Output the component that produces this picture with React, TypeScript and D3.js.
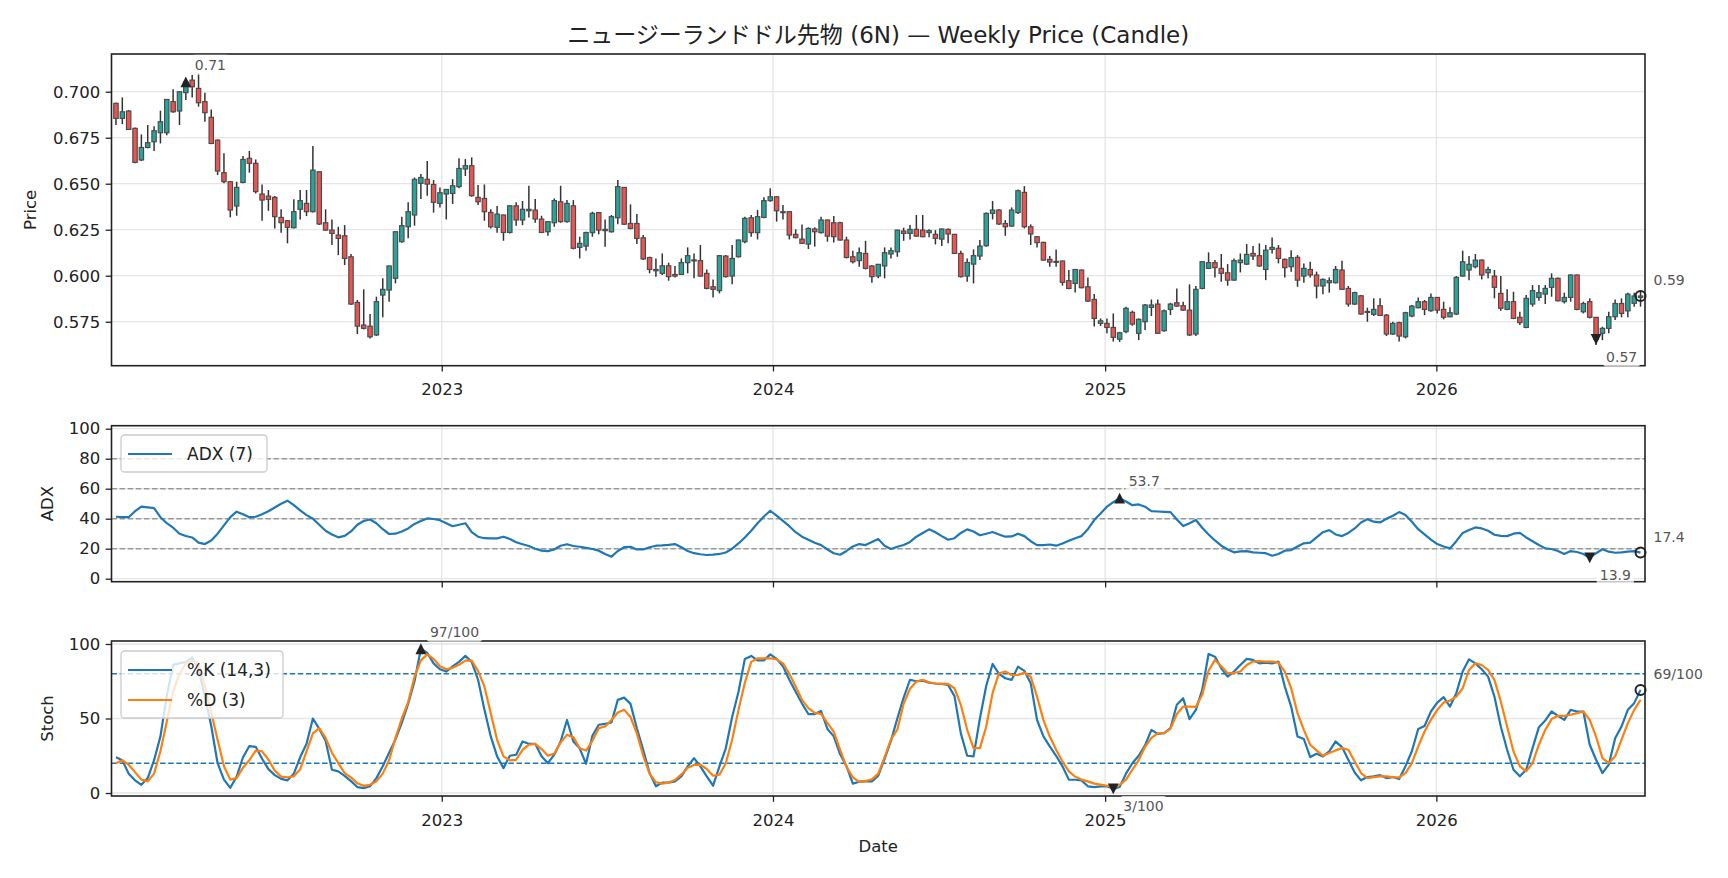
import React, { useEffect, useRef } from "react";
import * as d3 from "d3";

// ---------- data ----------
const FIRST_WEEK = "2022-01-07";
const TITLE = "ニュージーランドドル先物 (6N) — Weekly Price (Candle)";

const OPEN = [
  0.6937,0.6855,0.6895,0.6801,0.6629,0.6697,0.6728,0.6777,0.6777,0.6946,
  0.6895,0.6995,0.7063,0.7018,0.6946,0.6861,0.6737,0.6560,0.6511,0.6379,
  0.6507,0.6638,0.6611,0.6444,0.6433,0.6426,0.6317,0.6299,0.6261,0.6361,
  0.6393,0.6348,0.6565,0.6288,0.6248,0.6221,0.6217,0.6103,0.5855,0.5732,
  0.5726,0.5678,0.5895,0.5922,0.5986,0.6185,0.6266,0.6330,0.6502,0.6524,
  0.6496,0.6393,0.6444,0.6447,0.6484,0.6580,0.6598,0.6426,0.6420,0.6344,
  0.6263,0.6330,0.6235,0.6380,0.6303,0.6353,0.6357,0.6308,0.6239,0.6288,
  0.6402,0.6294,0.6380,0.6154,0.6161,0.6234,0.6343,0.6252,0.6239,0.6315,
  0.6480,0.6284,0.6284,0.6206,0.6099,0.6034,0.6013,0.6054,0.6007,0.6007,
  0.6071,0.6086,0.6082,0.6013,0.5940,0.5919,0.6107,0.5998,0.6103,0.6185,
  0.6315,0.6234,0.6317,0.6408,0.6429,0.6348,0.6348,0.6225,0.6199,0.6172,
  0.6254,0.6234,0.6303,0.6288,0.6288,0.6194,0.6103,0.6082,0.6121,0.6053,
  0.5998,0.6053,0.6118,0.6130,0.6243,0.6230,0.6252,0.6248,0.6234,0.6225,
  0.6199,0.6252,0.6225,0.6121,0.5998,0.6063,0.6107,0.6163,0.6339,0.6357,
  0.6284,0.6270,0.6343,0.6453,0.6266,0.6212,0.6181,0.6089,0.6074,0.6080,
  0.5973,0.5958,0.6031,0.5940,0.5871,0.5741,0.5741,0.5719,0.5655,0.5696,
  0.5801,0.5687,0.5750,0.5828,0.5846,0.5701,0.5817,0.5853,0.5837,0.5813,
  0.5683,0.5931,0.6040,0.6071,0.6040,0.6016,0.5976,0.6071,0.6063,0.6121,
  0.6109,0.6034,0.6143,0.6149,0.6089,0.6049,0.6100,0.5998,0.6034,0.6004,
  0.5944,0.5962,0.5962,0.6031,0.5931,0.5846,0.5891,0.5801,0.5790,0.5837,
  0.5786,0.5683,0.5745,0.5668,0.5781,0.5826,0.5859,0.5810,0.5882,0.5817,
  0.5777,0.5792,0.5998,0.6031,0.6049,0.6085,0.6016,0.5998,0.5904,0.5817,
  0.5859,0.5774,0.5719,0.5846,0.5882,0.5900,0.5937,0.5986,0.5859,0.5882,
  0.6004,0.5804,0.5859,0.5774,0.5687,0.5714,0.5777,0.5849,0.5809,0.5850,0.5882,
];
const HIGH = [
  0.6940,0.6969,0.6900,0.6806,0.6768,0.6819,0.6813,0.6897,0.6959,0.7013,
  0.7002,0.7060,0.7091,0.7100,0.6995,0.6904,0.6741,0.6665,0.6513,0.6511,
  0.6650,0.6678,0.6632,0.6496,0.6466,0.6433,0.6361,0.6302,0.6415,0.6466,
  0.6466,0.6705,0.6567,0.6361,0.6306,0.6266,0.6275,0.6118,0.5868,0.5926,
  0.5792,0.5886,0.5986,0.6055,0.6241,0.6321,0.6399,0.6534,0.6553,0.6623,
  0.6520,0.6480,0.6471,0.6525,0.6638,0.6634,0.6643,0.6493,0.6496,0.6361,
  0.6379,0.6332,0.6382,0.6399,0.6406,0.6489,0.6417,0.6326,0.6295,0.6420,
  0.6489,0.6411,0.6411,0.6212,0.6239,0.6348,0.6345,0.6306,0.6330,0.6520,
  0.6482,0.6388,0.6335,0.6221,0.6103,0.6094,0.6121,0.6071,0.6053,0.6094,
  0.6154,0.6121,0.6167,0.6034,0.5980,0.6110,0.6112,0.6167,0.6197,0.6321,
  0.6330,0.6357,0.6426,0.6475,0.6433,0.6384,0.6350,0.6252,0.6279,0.6263,
  0.6263,0.6321,0.6305,0.6324,0.6294,0.6212,0.6136,0.6154,0.6190,0.6058,
  0.6064,0.6154,0.6154,0.6250,0.6261,0.6275,0.6330,0.6330,0.6252,0.6248,
  0.6257,0.6257,0.6227,0.6136,0.6094,0.6143,0.6194,0.6343,0.6406,0.6361,
  0.6303,0.6371,0.6469,0.6487,0.6279,0.6216,0.6185,0.6107,0.6143,0.6082,
  0.6031,0.6036,0.6033,0.5991,0.5900,0.5768,0.5768,0.5795,0.5695,0.5832,
  0.5810,0.5768,0.5846,0.5871,0.5871,0.5817,0.5853,0.5931,0.5859,0.5953,
  0.5944,0.6078,0.6127,0.6085,0.6118,0.6063,0.6094,0.6121,0.6172,0.6161,
  0.6176,0.6167,0.6208,0.6167,0.6094,0.6139,0.6112,0.6067,0.6076,0.6022,
  0.5985,0.5991,0.6053,0.6082,0.5944,0.5913,0.5895,0.5826,0.5877,0.5877,
  0.5792,0.5750,0.5750,0.5804,0.5841,0.5882,0.5868,0.5904,0.5884,0.5859,
  0.5828,0.5998,0.6136,0.6107,0.6118,0.6089,0.6049,0.6031,0.5998,0.5926,
  0.5913,0.5804,0.5895,0.5949,0.5949,0.5949,0.6013,0.5991,0.5908,0.6007,
  0.6007,0.5859,0.5877,0.5776,0.5723,0.5804,0.5871,0.5877,0.5908,0.5908,0.5913,
];
const LOW = [
  0.6819,0.6824,0.6792,0.6611,0.6623,0.6692,0.6678,0.6719,0.6764,0.6886,
  0.6819,0.6955,0.6969,0.6919,0.6837,0.6714,0.6547,0.6502,0.6317,0.6326,
  0.6502,0.6560,0.6447,0.6299,0.6353,0.6257,0.6234,0.6176,0.6257,0.6306,
  0.6324,0.6343,0.6275,0.6243,0.6167,0.6112,0.6058,0.5841,0.5683,0.5708,
  0.5659,0.5672,0.5774,0.5859,0.5958,0.6179,0.6203,0.6272,0.6417,0.6435,
  0.6343,0.6371,0.6306,0.6390,0.6475,0.6542,0.6429,0.6384,0.6299,0.6257,
  0.6234,0.6190,0.6230,0.6272,0.6275,0.6317,0.6288,0.6232,0.6217,0.6266,
  0.6288,0.6288,0.6143,0.6094,0.6136,0.6212,0.6225,0.6158,0.6234,0.6280,
  0.6275,0.6252,0.6172,0.6085,0.6013,0.5995,0.6004,0.5973,0.5991,0.6004,
  0.6013,0.5986,0.5995,0.5926,0.5882,0.5904,0.5991,0.5953,0.6099,0.6176,
  0.6212,0.6197,0.6312,0.6402,0.6294,0.6306,0.6197,0.6203,0.6172,0.6145,
  0.6158,0.6230,0.6185,0.6181,0.6190,0.6094,0.6067,0.6049,0.6034,0.5962,
  0.5986,0.5986,0.6094,0.6103,0.6190,0.6197,0.6212,0.6209,0.6209,0.6170,
  0.6161,0.6176,0.6118,0.5991,0.5967,0.5958,0.6085,0.6158,0.6306,0.6275,
  0.6217,0.6266,0.6335,0.6257,0.6167,0.6154,0.6082,0.6049,0.6049,0.5946,
  0.5926,0.5909,0.5931,0.5857,0.5724,0.5727,0.5687,0.5642,0.5640,0.5687,
  0.5728,0.5650,0.5705,0.5781,0.5683,0.5696,0.5786,0.5832,0.5810,0.5672,
  0.5672,0.5926,0.6036,0.5991,0.5967,0.5946,0.5973,0.6018,0.6058,0.6085,
  0.6049,0.5976,0.6121,0.6067,0.5991,0.6022,0.5940,0.5962,0.5991,0.5877,
  0.5899,0.5908,0.5958,0.5922,0.5832,0.5841,0.5788,0.5750,0.5781,0.5781,
  0.5672,0.5678,0.5642,0.5659,0.5774,0.5823,0.5786,0.5804,0.5795,0.5763,
  0.5774,0.5786,0.5995,0.5976,0.6040,0.5980,0.5986,0.5877,0.5810,0.5813,
  0.5764,0.5732,0.5714,0.5832,0.5864,0.5846,0.5886,0.5860,0.5849,0.5859,
  0.5813,0.5795,0.5768,0.5624,0.5650,0.5687,0.5759,0.5774,0.5774,0.5832,0.5832,
];
const CLOSE = [
  0.6855,0.6891,0.6795,0.6616,0.6697,0.6723,0.6788,0.6837,0.6958,0.6891,
  0.7000,0.7054,0.7027,0.6940,0.6886,0.6719,0.6569,0.6511,0.6357,0.6480,
  0.6632,0.6611,0.6457,0.6411,0.6415,0.6321,0.6288,0.6263,0.6348,0.6408,
  0.6348,0.6574,0.6281,0.6248,0.6230,0.6203,0.6094,0.5846,0.5726,0.5714,
  0.5668,0.5859,0.5926,0.6053,0.6239,0.6272,0.6348,0.6524,0.6534,0.6498,
  0.6399,0.6451,0.6469,0.6489,0.6583,0.6598,0.6435,0.6402,0.6348,0.6266,
  0.6335,0.6235,0.6380,0.6303,0.6361,0.6361,0.6308,0.6235,0.6294,0.6408,
  0.6294,0.6393,0.6149,0.6176,0.6235,0.6339,0.6248,0.6245,0.6321,0.6484,
  0.6280,0.6257,0.6203,0.6091,0.6034,0.6027,0.6054,0.5995,0.5998,0.6071,
  0.6109,0.6082,0.5998,0.5931,0.5926,0.6109,0.5995,0.6094,0.6194,0.6312,
  0.6234,0.6321,0.6408,0.6429,0.6353,0.6346,0.6221,0.6207,0.6176,0.6257,
  0.6239,0.6303,0.6215,0.6212,0.6194,0.6099,0.6076,0.6125,0.6040,0.5995,
  0.6062,0.6125,0.6136,0.6248,0.6230,0.6252,0.6215,0.6212,0.6245,0.6203,
  0.6254,0.6227,0.6121,0.5995,0.6072,0.6109,0.6161,0.6339,0.6357,0.6281,
  0.6266,0.6357,0.6462,0.6266,0.6227,0.6180,0.6085,0.6074,0.6078,0.5964,
  0.5931,0.6034,0.5935,0.5862,0.5768,0.5755,0.5719,0.5665,0.5690,0.5823,
  0.5737,0.5763,0.5841,0.5841,0.5687,0.5809,0.5846,0.5835,0.5813,0.5678,
  0.5926,0.6076,0.6071,0.6044,0.6013,0.5976,0.6082,0.6085,0.6116,0.6107,
  0.6053,0.6139,0.6154,0.6094,0.6044,0.6098,0.5976,0.6040,0.6004,0.5944,
  0.5980,0.5973,0.6034,0.5926,0.5846,0.5908,0.5792,0.5806,0.5817,0.5784,
  0.5683,0.5741,0.5672,0.5799,0.5835,0.5859,0.5817,0.5882,0.5813,0.5774,
  0.5799,0.5991,0.6076,0.6062,0.6085,0.6004,0.6034,0.5937,0.5823,0.5859,
  0.5768,0.5745,0.5877,0.5919,0.5908,0.5931,0.5986,0.5864,0.5882,0.6004,
  0.5817,0.5849,0.5774,0.5654,0.5714,0.5777,0.5849,0.5795,0.5900,0.5890,0.5890,
];
const ADX = [
  41.3,41,41,45,48,47.5,47,41,37,34,
  30,28.5,27.5,24,23.1,25.5,30,35.5,41,44.7,
  43,41,41.3,43,45,47.5,50,52,49,45.5,
  42.4,40,36,32,29.5,27.6,28.5,31.5,36,38.5,
  39.5,37,33,29.8,30,31.5,33.5,36.5,38.5,40.2,
  39.8,39,37,35,36,37,31,28,27,26.9,
  26.9,28,26.5,24.3,23,21.8,20,18.7,18.4,19.5,
  22,23,21.8,21.3,20.5,19.8,18.7,16.5,14.7,18.5,
  21,21.3,19.5,19.5,21,22,22.2,22.6,23.1,21,
  18.5,17,16.3,15.8,16,16.5,17.5,20,23.5,27.5,
  32,37,41.5,45.3,42,38.5,35,31,28,26,
  24,22.4,19.5,17,16,18.5,21.5,23.1,22.4,24.5,
  26.4,22,19.8,21.3,22.5,24.5,28,30.5,32.9,31,
  28.4,26,27,30.5,32.9,31.5,29,30,31.1,29.5,
  28,28.2,30,28.4,25,22.4,22.4,22.8,22,23.5,
  25.3,27,28.4,33,39.1,43.5,48,51,53.7,51.5,
  49,49.5,48,45,44.8,44.6,44.4,39.5,35.1,37,
  39.1,34,29.5,25.5,22,19.5,17.6,18.2,18.4,17.6,
  17.3,17,15.3,16.5,18.7,19.1,21.5,23.6,24,27.5,
  31,32.4,29.5,28.4,30.5,33.5,37.5,39.6,38,37.5,
  40,42,44.4,42.5,38,33,29.5,26,23.1,21.5,
  20.2,25,30.5,32.5,34.2,33.5,32,29.3,28.6,28.4,
  30,30.5,27.5,25,22.5,20.2,19.8,18.5,16.4,18.4,
  17.8,16.5,13.9,17,19.6,18,17.3,17.5,18,18.4,17.4,
];
const STOCH_K = [
  24,22,13,8.5,5.5,10,22,38,65,86,
  87,88,91,83,65,45,20,9,3.5,11,
  24,31.5,31,23,16,12,9.5,8.5,13,24,
  33,50,43,35,15.6,14.5,11.5,8,4,3.3,
  4.5,10,18,27,36,47,60,75,96.8,94,
  87,83,81.5,85,88,92,88,76,56,38,
  24.6,16.7,25,25.7,34.6,33,33,24.6,20,25.7,
  34.6,49,34.6,30,19.6,38.4,45.8,46.4,47.3,62.5,
  64,59.8,43.5,29,13.4,4.5,7,7,7.8,11.2,
  17.9,23.4,17.9,11.2,4.9,17.9,30,51,68,90,
  92,89,89,93,90,85,76,68,60,53,
  53,55,43,38,26,18,6.3,7.6,7.8,7.8,
  11.6,23,35,50,64,76,75,75.4,74.1,73.5,
  73.2,72.5,65,40,25,24.6,50,72,86.6,80,
  77,75.9,84.8,82,73.7,49,38,31.3,25,17.9,
  9,8.9,8.5,4.5,4,4.5,4.5,2.8,4,13,
  20,25,32,42.4,39.7,40.2,43.5,59.2,63.6,49.6,
  55.8,69.2,93.3,91.5,83.7,78.1,81.5,85.9,90,89.3,
  87,87.5,87,88.2,71.4,58,37.9,36.2,24.1,26.3,
  24.6,27.9,34.6,30.8,22.3,13.8,8.5,10.7,11.2,12,
  10,10.7,9.4,18,28,43,45,54.7,60.7,64.3,
  58,67,81.5,89.7,87,83,78.1,64.7,44.6,29,
  15.6,11.2,15.6,30.1,44.2,48.7,54.7,51.8,49.1,55.8,
  54.7,54.7,32.4,22.3,13.4,19,36.8,44.6,55.8,60.3,69.2,
];
const STOCH_D = [
  20,22,19,14,9,7.8,13,28,48,68,
  80,87,88.8,86.5,72,54,35.7,18,9,10,
  17,22,28.5,27.9,22.5,15,11,10.6,11.2,16,
  28,40,43.5,37,27,20.1,13.4,10.5,6.5,4.8,
  5.5,7.8,13,22,37,50,61,78,89,93,
  90,85,83,84,86,88.8,88.8,82,71.4,53.6,
  35.7,24.6,21.9,22.3,29,32.4,33,29.5,25,26.5,
  34,39,37.5,30,28.5,35,43.5,44.6,49,54,
  55.8,51,40,25,13,7.2,6.3,7,8.7,12.5,
  17,18.8,19,16.1,11.6,12.3,20,35.7,55.8,74,
  88,90.4,90.4,90.4,89.7,87,80,71.4,62.5,57,
  53.8,53.1,47,41,29,17.5,10.5,7.5,8,9.2,
  13,24,36,42.5,60,70,74.8,75.9,74.3,73.5,
  73.2,73.2,70.3,59.2,42.4,30.1,30.1,44.6,67,80.4,
  81.5,79.2,79.2,80.8,78.1,64.7,49.1,37.9,29,21.2,
  14.5,11,9,7.8,6.3,5.6,4.8,4.5,5.5,9,
  15.6,22,31,37,40,40.2,43,53,58,58,
  57.8,66,82,89.3,85,80.4,80.5,81.5,85.9,88.2,
  88.6,88.2,88.2,87.5,81.5,70.3,53.6,42.4,32.4,28.6,
  25,26.8,28.6,30.1,29,21.2,13.4,10,10.7,11.2,
  11.2,10.7,10.5,13.4,20.1,31.3,41.3,49.1,55.8,60.7,
  62,64.7,70.3,82.6,87,85.9,82.6,75.9,61.4,44.6,
  27.9,17.9,14.5,20.1,32.4,42.4,49.6,51.8,51.8,52.5,
  53.6,54.7,49.1,37.9,23.4,20.1,24.6,35.7,46.9,55.8,62.5,
];
const PRICE_TICKS = [0.575, 0.6, 0.625, 0.65, 0.675, 0.7];
const ADX_TICKS = [0, 20, 40, 60, 80, 100];
const ADX_LEVELS = [20, 40, 60, 80];
const STOCH_TICKS = [0, 50, 100];
const STOCH_LEVELS = [20, 80];
const PRICE_DOMAIN = [0.5511, 0.7205];
const OSC_DOMAIN = [-2, 102];

// ---------- style ----------
const FONT = "'DejaVu Sans', 'Noto Sans CJK JP', sans-serif";
const UP = "#26a69a";
const DOWN = "#ef5350";
const BLUE = "#1f77b4";
const ORANGE = "#ff7f0e";
const INK = "#222222";
const GRID = "#e5e5e5";
const TICK_FS = 16.5;
const ANN_FS = 14;

const L = 111.5;
const R = 1645;
const PP = { top: 54, bottom: 365.7 };
const AP = { top: 425.7, bottom: 581.7 };
const SP = { top: 641, bottom: 796 };

function draw(svgEl: SVGSVGElement) {
  const svg = d3.select(svgEl);
  svg.selectAll("*").remove();
  svg.append("rect").attr("width", 1728).attr("height", 878).attr("fill", "#fff");

  const first = new Date(FIRST_WEEK + "T00:00:00Z");
  const dates = CLOSE.map((_, i) => d3.utcDay.offset(first, 7 * i));
  const n = dates.length;
  const x = d3
    .scaleUtc()
    .domain([d3.utcHour.offset(dates[0], -118), d3.utcHour.offset(dates[n - 1], 118)])
    .range([L, R]);
  const years = x.ticks(d3.utcYear.every(1) as any);

  const yP = d3.scaleLinear().domain(PRICE_DOMAIN).range([PP.bottom, PP.top]);
  const yA = d3.scaleLinear().domain(OSC_DOMAIN).range([AP.bottom, AP.top]);
  const yS = d3.scaleLinear().domain(OSC_DOMAIN).range([SP.bottom, SP.top]);

  const layers = {
    grid: svg.append("g"),
    data: svg.append("g"),
    frame: svg.append("g"),
    legend: svg.append("g"),
    marks: svg.append("g"),
  };

  function panel(
    y: d3.ScaleLinear<number, number>,
    p: { top: number; bottom: number },
    ticks: number[],
    fmt: (v: number) => string,
    showX: boolean
  ) {
    const g = layers.grid;
    g.append("g")
      .selectAll("line")
      .data(years)
      .join("line")
      .attr("x1", (d) => x(d))
      .attr("x2", (d) => x(d))
      .attr("y1", p.top)
      .attr("y2", p.bottom)
      .attr("stroke", GRID)
      .attr("stroke-width", 1.3);
    g.append("g")
      .selectAll("line")
      .data(ticks)
      .join("line")
      .attr("x1", L)
      .attr("x2", R)
      .attr("y1", (d) => y(d))
      .attr("y2", (d) => y(d))
      .attr("stroke", GRID)
      .attr("stroke-width", 1.3);

    const f = layers.frame;
    f.append("rect")
      .attr("x", L)
      .attr("y", p.top)
      .attr("width", R - L)
      .attr("height", p.bottom - p.top)
      .attr("fill", "none")
      .attr("stroke", INK)
      .attr("stroke-width", 1.6);

    const ay = f
      .append("g")
      .attr("transform", `translate(${L},0)`)
      .call(d3.axisLeft(y).tickValues(ticks).tickFormat(fmt as any).tickSize(5.8).tickPadding(5.5));
    const ax = f
      .append("g")
      .attr("transform", `translate(0,${p.bottom})`)
      .call(
        d3
          .axisBottom(x)
          .tickValues(years)
          .tickFormat((showX ? d3.utcFormat("%Y") : () => "") as any)
          .tickSize(5.8)
          .tickPadding(12)
      );
    [ay, ax].forEach((a) => {
      a.select(".domain").remove();
      a.attr("font-family", FONT).attr("font-size", TICK_FS);
      a.selectAll("line").attr("stroke", INK).attr("stroke-width", 1.3);
      a.selectAll("text").attr("fill", INK);
    });
  }

  panel(yP, PP, PRICE_TICKS, d3.format(".3f"), true);
  panel(yA, AP, ADX_TICKS, d3.format("d"), false);
  panel(yS, SP, STOCH_TICKS, d3.format("d"), true);

  // reference levels
  layers.grid
    .append("g")
    .selectAll("line")
    .data(ADX_LEVELS)
    .join("line")
    .attr("x1", L)
    .attr("x2", R)
    .attr("y1", (d) => yA(d))
    .attr("y2", (d) => yA(d))
    .attr("stroke", "#999")
    .attr("stroke-width", 1.5)
    .attr("stroke-dasharray", "5.5,2.6");
  layers.grid
    .append("g")
    .selectAll("line")
    .data(STOCH_LEVELS)
    .join("line")
    .attr("x1", L)
    .attr("x2", R)
    .attr("y1", (d) => yS(d))
    .attr("y2", (d) => yS(d))
    .attr("stroke", BLUE)
    .attr("stroke-width", 1.5)
    .attr("stroke-dasharray", "5.5,2.6");

  // candles
  const idx = d3.range(n);
  const cg = layers.data.append("g");
  cg.selectAll("line")
    .data(idx)
    .join("line")
    .attr("x1", (i) => x(dates[i]))
    .attr("x2", (i) => x(dates[i]))
    .attr("y1", (i) => yP(HIGH[i]))
    .attr("y2", (i) => yP(LOW[i]))
    .attr("stroke", "#333")
    .attr("stroke-width", 1.5);
  const bw = 4.4;
  cg.selectAll("rect")
    .data(idx)
    .join("rect")
    .attr("x", (i) => x(dates[i]) - bw / 2)
    .attr("width", bw)
    .attr("y", (i) => yP(Math.max(OPEN[i], CLOSE[i])))
    .attr("height", (i) => Math.max(1, Math.abs(yP(OPEN[i]) - yP(CLOSE[i]))))
    .attr("fill", (i) => (CLOSE[i] >= OPEN[i] ? UP : DOWN))
    .attr("stroke", "#4a4a4a")
    .attr("stroke-width", 1.15);

  // lines
  const addLine = (vals: number[], y: d3.ScaleLinear<number, number>, color: string) =>
    layers.data
      .append("path")
      .datum(idx)
      .attr("fill", "none")
      .attr("stroke", color)
      .attr("stroke-width", 2.2)
      .attr("stroke-linejoin", "round")
      .attr(
        "d",
        d3
          .line<number>()
          .x((i) => x(dates[i]))
          .y((i) => y(vals[i]))
      );
  addLine(ADX, yA, BLUE);
  addLine(STOCH_K, yS, BLUE);
  addLine(STOCH_D, yS, ORANGE);

  // labels
  const txt = (
    g: any,
    s: string,
    xx: number,
    yy: number,
    fs: number,
    opts: { anchor?: string; rotate?: boolean; fill?: string; baseline?: string } = {}
  ) => {
    const t = g
      .append("text")
      .attr("x", xx)
      .attr("y", yy)
      .attr("font-family", FONT)
      .attr("font-size", fs)
      .attr("fill", opts.fill || INK)
      .attr("text-anchor", opts.anchor || "start")
      .text(s);
    if (opts.baseline) t.attr("dominant-baseline", opts.baseline);
    if (opts.rotate) t.attr("transform", `rotate(-90,${xx},${yy})`);
    return t;
  };
  const mid = (L + R) / 2;
  txt(layers.frame, TITLE, mid, 42.5, 23, { anchor: "middle" });
  txt(layers.frame, "Date", mid, 852, TICK_FS, { anchor: "middle" });
  txt(layers.frame, "Price", 31, (PP.top + PP.bottom) / 2, TICK_FS, { anchor: "middle", rotate: true, baseline: "central" });
  txt(layers.frame, "ADX", 47.6, (AP.top + AP.bottom) / 2, TICK_FS, { anchor: "middle", rotate: true, baseline: "central" });
  txt(layers.frame, "Stoch", 47.6, (SP.top + SP.bottom) / 2, TICK_FS, { anchor: "middle", rotate: true, baseline: "central" });

  // legends
  const legend = (bx: number, by: number, bwid: number, items: { label: string; color: string }[]) => {
    const g = layers.legend.append("g");
    const h = 7 + items.length * 30;
    g.append("rect")
      .attr("x", bx)
      .attr("y", by)
      .attr("width", bwid)
      .attr("height", h)
      .attr("rx", 3.5)
      .attr("fill", "#fff")
      .attr("fill-opacity", 0.8)
      .attr("stroke", "#cccccc")
      .attr("stroke-width", 1.3);
    items.forEach((it, k) => {
      const cy = by + 19 + k * 30;
      g.append("line")
        .attr("x1", bx + 7)
        .attr("x2", bx + 51)
        .attr("y1", cy)
        .attr("y2", cy)
        .attr("stroke", it.color)
        .attr("stroke-width", 2.2);
      txt(g, it.label, bx + 66, cy + 6, 17);
    });
  };
  legend(121, 435, 146, [{ label: "ADX (7)", color: BLUE }]);
  legend(121, 651, 162, [
    { label: "%K (14,3)", color: BLUE },
    { label: "%D (3)", color: ORANGE },
  ]);

  // markers + annotations
  const mk = layers.marks;
  const tri = (px: number, py: number, up: boolean) => {
    const h = 5.4;
    const d = up
      ? `M${px},${py - h}L${px - h},${py + h}L${px + h},${py + h}Z`
      : `M${px},${py + h}L${px - h},${py - h}L${px + h},${py - h}Z`;
    mk.append("path").attr("d", d).attr("fill", INK);
  };
  const circ = (px: number, py: number) =>
    mk.append("circle").attr("cx", px).attr("cy", py).attr("r", 5).attr("fill", "none").attr("stroke", INK).attr("stroke-width", 2);
  const ann = (s: string, px: number, py: number, where: "above" | "below" | "last") => {
    const g = mk.append("g");
    let tx = px + 9;
    let ty = py - 12;
    if (where === "below") {
      tx = px + 10;
      ty = py + 12 + ANN_FS * 0.73;
    }
    if (where === "last") {
      tx = px + 13;
      ty = py - 11;
    }
    const t = txt(g, s, tx, ty, ANN_FS, { fill: "#555" });
    const bb = (t.node() as SVGTextElement).getBBox();
    g.insert("rect", "text")
      .attr("x", bb.x - 3)
      .attr("y", bb.y - 2)
      .attr("width", bb.width + 6)
      .attr("height", bb.height + 4)
      .attr("rx", 3)
      .attr("fill", "#fff")
      .attr("fill-opacity", 0.75);
  };

  const series = [
    { vals: CLOSE, y: yP, fmt: (v: number) => d3.format(".2f")(v) },
    { vals: ADX, y: yA, fmt: (v: number) => d3.format(".1f")(v) },
    { vals: STOCH_K, y: yS, fmt: (v: number) => `${Math.round(v)}/100` },
  ];
  series.forEach((s) => {
    const iMax = d3.maxIndex(s.vals);
    const iMin = d3.minIndex(s.vals);
    const iLast = s.vals.length - 1;
    tri(x(dates[iMax]), s.y(s.vals[iMax]), true);
    ann(s.fmt(s.vals[iMax]), x(dates[iMax]), s.y(s.vals[iMax]), "above");
    tri(x(dates[iMin]), s.y(s.vals[iMin]), false);
    ann(s.fmt(s.vals[iMin]), x(dates[iMin]), s.y(s.vals[iMin]), "below");
    circ(x(dates[iLast]), s.y(s.vals[iLast]));
    ann(s.fmt(s.vals[iLast]), x(dates[iLast]), s.y(s.vals[iLast]), "last");
  });
}

export default function App() {
  const ref = useRef<SVGSVGElement | null>(null);
  useEffect(() => {
    document.body.style.margin = "0";
    if (ref.current) draw(ref.current);
  }, []);
  return (
    <svg
      ref={ref}
      width={1728}
      height={878}
      style={{ display: "block", position: "absolute", left: 0, top: 0 }}
    />
  );
}
